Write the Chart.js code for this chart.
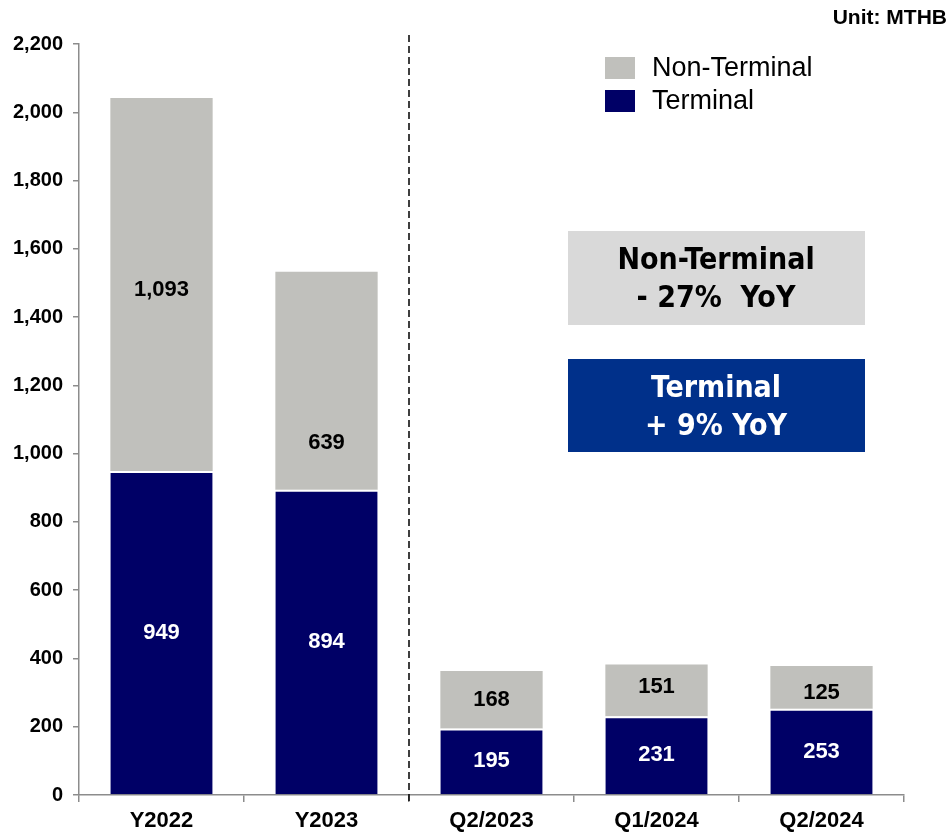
<!DOCTYPE html>
<html>
<head>
<meta charset="utf-8">
<script src="https://cdn.jsdelivr.net/npm/chart.js@4/dist/chart.umd.min.js"></script>
<style>
    body { margin: 0; background: #fff; }
    canvas { display: block; }
</style>
</head>
<body>
<canvas id="volumeChart" width="950" height="834"></canvas>
<script>
const categories = ['Y2022', 'Y2023', 'Q2/2023', 'Q1/2024', 'Q2/2024'];
const terminal = [949, 894, 195, 231, 253];
const nonTerminal = [1093, 639, 168, 151, 125];
const yTicks = [0, 200, 400, 600, 800, 1000, 1200, 1400, 1600, 1800, 2000, 2200];

const NAVY = '#000066';
const GREY = '#C0C0BC';

// labels inside each stacked segment
const segmentLabels = {
    id: 'segmentLabels',
    afterDatasetsDraw(chart, args, opts) {
        const ctx = chart.ctx;
        ctx.save();
        ctx.font = 'bold 22px "Liberation Sans", Arial, sans-serif';
        ctx.textAlign = 'center';
        ctx.textBaseline = 'middle';
        chart.data.datasets.forEach((ds, i) => {
            const meta = chart.getDatasetMeta(i);
            meta.data.forEach((bar, j) => {
                const shift = (opts.shift[ds.label] || {})[categories[j]] || 0;
                ctx.fillStyle = ds.labelColor;
                ctx.fillText(ds.data[j].toLocaleString('en-US'), bar.x, (bar.y + bar.base) / 2 + shift);
            });
        });
        ctx.restore();
    }
};

// divider, legend, YoY boxes and unit
const extras = {
    id: 'extras',
    afterDraw(chart) {
        const ctx = chart.ctx;
        const x = chart.scales.x;
        const area = chart.chartArea;
        ctx.save();

        // dashed divider between yearly and quarterly bars
        const divX = (x.getPixelForValue(1) + x.getPixelForValue(2)) / 2;
        ctx.strokeStyle = '#000';
        ctx.lineWidth = 1.5;
        ctx.setLineDash([7, 4]);
        ctx.beginPath();
        ctx.moveTo(divX, 35);
        ctx.lineTo(divX, area.bottom + 8);
        ctx.stroke();
        ctx.setLineDash([]);

        // legend
        const items = [
            { label: chart.data.datasets[1].label, color: chart.data.datasets[1].backgroundColor, y: 57 },
            { label: chart.data.datasets[0].label, color: chart.data.datasets[0].backgroundColor, y: 90 }
        ];
        ctx.font = '27px "Liberation Sans", Arial, sans-serif';
        ctx.textBaseline = 'middle';
        ctx.textAlign = 'left';
        items.forEach(it => {
            ctx.fillStyle = it.color;
            ctx.fillRect(605, it.y, 30, 22);
            ctx.fillStyle = '#000';
            ctx.fillText(it.label, 652, it.y + 12);
        });

        // YoY boxes
        ctx.fillStyle = '#D9D9D9';
        ctx.fillRect(568, 231, 297, 94);
        ctx.fillStyle = '#00308A';
        ctx.fillRect(568, 359, 297, 93);
        ctx.textAlign = 'center';
        ctx.font = 'bold 30px "DejaVu Sans Condensed", "DejaVu Sans", sans-serif';
        ctx.fillStyle = '#000';
        ctx.fillText('Non-Terminal', 716, 261);
        ctx.fillText('- 27%  YoY', 716, 299);
        ctx.fillStyle = '#fff';
        ctx.fillText('Terminal', 716, 389);
        ctx.fillText('+ 9% YoY', 716, 427);

        // unit
        ctx.textAlign = 'right';
        ctx.fillStyle = '#000';
        ctx.font = 'bold 21px "Liberation Sans", Arial, sans-serif';
        ctx.fillText('Unit: MTHB', 947, 18);

        ctx.restore();
    }
};

new Chart(document.getElementById('volumeChart').getContext('2d'), {
    type: 'bar',
    data: {
        labels: categories,
        datasets: [{
            label: 'Terminal',
            data: terminal,
            backgroundColor: NAVY,
            labelColor: '#fff',
            borderColor: '#fff',
            borderWidth: { top: 2, left: 0, right: 0, bottom: 0 },
            borderSkipped: false
        }, {
            label: 'Non-Terminal',
            data: nonTerminal,
            backgroundColor: GREY,
            labelColor: '#000',
            borderWidth: 0
        }]
    },
    options: {
        responsive: false,
        animation: false,
        events: [],
        layout: { padding: { top: 44, right: 46, left: 0, bottom: 0 } },
        datasets: { bar: { categoryPercentage: 1, barPercentage: 0.62 } },
        plugins: {
            legend: { display: false },
            tooltip: { enabled: false },
            segmentLabels: { shift: { 'Non-Terminal': { 'Y2022': 5, 'Y2023': 62, 'Q1/2024': -3, 'Q2/2024': 6 } } }
        },
        scales: {
            x: {
                stacked: true,
                grid: { offset: true, drawOnChartArea: false, drawTicks: true, tickLength: 7, color: '#8C8C8C', lineWidth: 1.5 },
                border: { color: '#8C8C8C', width: 1.5 },
                ticks: {
                    color: '#000',
                    padding: 6,
                    font: { family: '"Liberation Sans", Arial, sans-serif', weight: 'bold', size: 22 }
                },
                afterFit(scale) { scale.height = 39; }
            },
            y: {
                stacked: true,
                min: yTicks[0],
                max: yTicks[yTicks.length - 1],
                afterBuildTicks(scale) { scale.ticks = yTicks.map(v => ({ value: v })); },
                grid: { drawOnChartArea: false, drawTicks: true, tickLength: 6, color: '#8C8C8C', lineWidth: 1.5 },
                border: { color: '#8C8C8C', width: 1.5 },
                ticks: {
                    color: '#000',
                    padding: 10,
                    font: { family: '"Liberation Sans", Arial, sans-serif', weight: 'bold', size: 20 },
                    callback: v => v.toLocaleString('en-US')
                },
                afterFit(scale) { scale.width = 79; }
            }
        }
    },
    plugins: [segmentLabels, extras]
});
</script>
</body>
</html>
